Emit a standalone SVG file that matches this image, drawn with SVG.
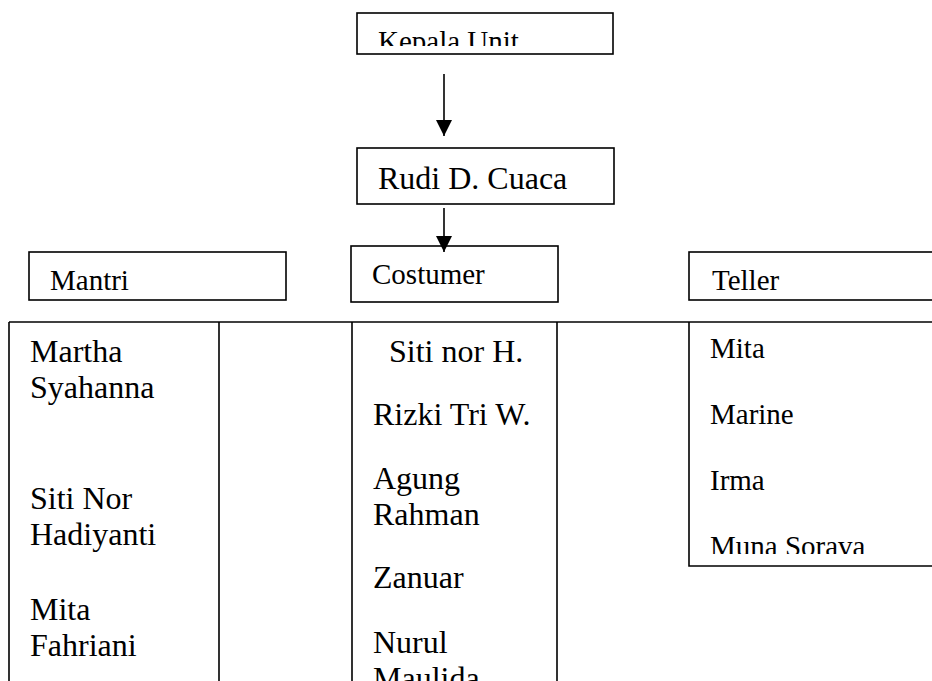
<svg xmlns="http://www.w3.org/2000/svg" width="932" height="681" viewBox="0 0 932 681">
<style>
.box{fill:#fff;stroke:#000;stroke-width:1.6}
.ln{stroke:#000;stroke-width:1.6;fill:none}
text{fill:#000}
.h{font-size:29px}
.b{font-size:32px}
</style>
<defs>
<marker id="ah" markerWidth="16" markerHeight="16" refX="16" refY="8" orient="auto" markerUnits="userSpaceOnUse">
<path d="M0,0 L16,8 L0,16 Z" fill="#000"/>
</marker>
<clipPath id="ck"><rect x="357" y="13" width="256" height="33"/></clipPath>
<clipPath id="cm"><rect x="689" y="322" width="243" height="232"/></clipPath>
</defs>
<rect width="932" height="681" fill="#fff"/>
<g font-family="'Liberation Serif', 'Times New Roman', Times, serif">

<g id="kepala">
<rect class="box" x="357" y="13" width="256" height="41"/>
<text class="h" x="378" y="51" clip-path="url(#ck)">Kepala Unit</text>
</g>

<g id="rudi">
<rect class="box" x="357" y="148" width="257" height="56"/>
<text class="b" x="378" y="189">Rudi D. Cuaca</text>
</g>

<g id="mantri">
<rect class="box" x="29" y="252" width="257" height="48"/>
<text class="h" x="50" y="290">Mantri</text>
</g>

<g id="costumer">
<rect class="box" x="351" y="246" width="207" height="56"/>
<text class="h" x="372" y="284">Costumer</text>
</g>

<g id="teller">
<rect class="box" x="689" y="252" width="260" height="48"/>
<text class="h" x="712" y="290">Teller</text>
</g>

<g id="mantri-list">
<path class="ln" d="M9,681 V322 M219,322 V681"/>
<text class="b" x="30" y="362">Martha</text>
<text class="b" x="30" y="398">Syahanna</text>
<text class="b" x="30" y="509">Siti Nor</text>
<text class="b" x="30" y="545">Hadiyanti</text>
<text class="b" x="30" y="620">Mita</text>
<text class="b" x="30" y="656">Fahriani</text>
</g>

<g id="costumer-list">
<path class="ln" d="M352,322 V681 M557,322 V681"/>
<text class="b" x="389" y="362">Siti nor H.</text>
<text class="b" x="373" y="425">Rizki Tri W.</text>
<text class="b" x="373" y="489">Agung</text>
<text class="b" x="373" y="525">Rahman</text>
<text class="b" x="373" y="588">Zanuar</text>
<text class="b" x="373" y="653">Nurul</text>
<text class="b" x="373" y="689">Maulida</text>
</g>

<g id="teller-list">
<path class="ln" d="M689,322 V566 H940"/>
<g clip-path="url(#cm)">
<text class="h" x="710" y="358">Mita</text>
<text class="h" x="710" y="424">Marine</text>
<text class="h" x="710" y="490">Irma</text>
<text class="h" x="710" y="556">Muna Sorava</text>
</g>
</g>
</g>

<g id="connectors">
<line class="ln" x1="9" y1="322" x2="932" y2="322"/>
<line class="ln" x1="444" y1="74" x2="444" y2="136" marker-end="url(#ah)"/>
<line class="ln" x1="444" y1="208" x2="444" y2="252" marker-end="url(#ah)"/>
</g>
</svg>
